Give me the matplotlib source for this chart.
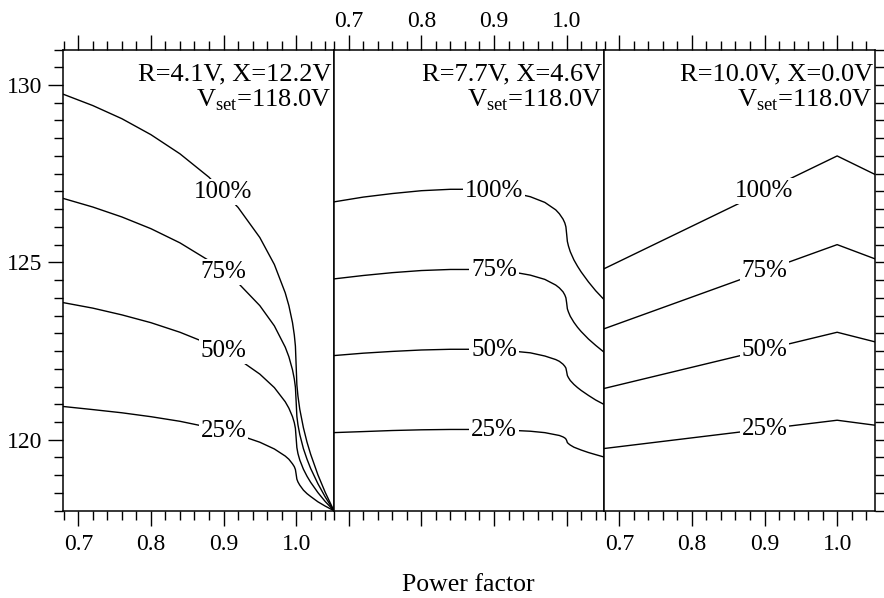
import numpy as np
import matplotlib
matplotlib.use('Agg')
import matplotlib.pyplot as plt
from matplotlib.ticker import FixedLocator, MultipleLocator

plt.rcParams['font.family'] = ['Liberation Serif', 'DejaVu Serif']
plt.rcParams['mathtext.fontset'] = 'custom'
plt.rcParams['mathtext.rm'] = 'Liberation Serif'

# --- data ---
loads = ['100%', '75%', '50%', '25%']
titles = ['R=4.1V, X=12.2V', 'R=7.7V, X=4.6V', 'R=10.0V, X=0.0V']
vset_text = r'V$_{\rm set}$=118.0V'

# power factor positions where the curves were read (>1 means leading)
pf = [0.678, 0.72, 0.76, 0.80, 0.84, 0.88, 0.92, 0.95, 0.97, 0.985, 0.99, 0.995,
      0.9975, 0.999, 1.0, 1.001, 1.0025, 1.005, 1.01, 1.015, 1.02, 1.03, 1.04, 1.052]

# panel 1: R=4.1V, X=12.2V
v1_100 = [129.75, 129.42, 129.05, 128.60, 128.06, 127.40, 126.55, 125.70, 124.94, 124.14, 123.78, 123.30,
          122.95, 122.64, 122.10, 121.55, 121.23, 120.86, 120.34, 119.93, 119.59, 119.01, 118.52, 118.00]
v1_75 = [126.81, 126.56, 126.28, 125.95, 125.55, 125.05, 124.42, 123.78, 123.21, 122.61, 122.34, 121.97,
         121.71, 121.48, 121.08, 120.66, 120.42, 120.15, 119.75, 119.45, 119.19, 118.76, 118.39, 118.00]
v1_50 = [123.87, 123.71, 123.52, 123.30, 123.03, 122.70, 122.28, 121.85, 121.47, 121.07, 120.89, 120.65,
         120.48, 120.32, 120.05, 119.78, 119.61, 119.43, 119.17, 118.97, 118.80, 118.51, 118.26, 118.00]
v1_25 = [120.94, 120.85, 120.76, 120.65, 120.52, 120.35, 120.14, 119.93, 119.74, 119.54, 119.45, 119.32,
         119.24, 119.16, 119.03, 118.89, 118.81, 118.72, 118.58, 118.48, 118.40, 118.25, 118.13, 118.00]

# panel 2: R=7.7V, X=4.6V
v2_100 = [126.70, 126.84, 126.94, 127.02, 127.06, 127.06, 126.99, 126.85, 126.69, 126.48, 126.37, 126.22,
          126.11, 126.00, 125.80, 125.59, 125.46, 125.30, 125.07, 124.89, 124.73, 124.45, 124.20, 123.94]
v2_75 = [124.53, 124.63, 124.71, 124.77, 124.80, 124.80, 124.75, 124.64, 124.52, 124.36, 124.28, 124.17,
         124.08, 124.00, 123.86, 123.69, 123.60, 123.48, 123.31, 123.17, 123.05, 122.84, 122.66, 122.46]
v2_50 = [122.37, 122.44, 122.49, 122.53, 122.55, 122.55, 122.51, 122.45, 122.36, 122.26, 122.21, 122.13,
         122.07, 122.02, 121.92, 121.81, 121.75, 121.67, 121.56, 121.47, 121.39, 121.25, 121.12, 120.99]
v2_25 = [120.20, 120.23, 120.26, 120.28, 120.29, 120.29, 120.27, 120.24, 120.20, 120.14, 120.12, 120.08,
         120.05, 120.02, 119.98, 119.92, 119.89, 119.85, 119.79, 119.75, 119.71, 119.64, 119.58, 119.51]

# panel 3: R=10.0V, X=0.0V (straight segments)
pf3 = [0.678, 1.0, 1.052]
v3_100 = [124.81, 128.0, 127.48]
v3_75 = [123.12, 125.5, 125.1]
v3_50 = [121.44, 123.03, 122.76]
v3_25 = [119.75, 120.55, 120.41]

pf_ticks = [0.7, 0.8, 0.9, 1.0]
pf_tick_labels = ['0.7', '0.8', '0.9', '1.0']
v_ticks = [120, 125, 130]
label_pf = 0.9

panels = [
    [(pf, v1_100), (pf, v1_75), (pf, v1_50), (pf, v1_25)],
    [(pf, v2_100), (pf, v2_75), (pf, v2_50), (pf, v2_25)],
    [(pf3, v3_100), (pf3, v3_75), (pf3, v3_50), (pf3, v3_25)],
]

fig, axes = plt.subplots(1, 3, figsize=(8.84, 5.98), dpi=100, sharey=True)
fig.subplots_adjust(left=0.0713, right=0.9893, bottom=0.146, top=0.9172, wspace=0)

for i, ax in enumerate(axes):
    for (x, y), name in zip(panels[i], loads):
        ax.plot(x, y, color='black', lw=1.0)
        ly = np.interp(label_pf, x, y)
        ax.text(label_pf, ly, name, fontsize=18, ha='center', va='center',
                bbox=dict(facecolor='white', edgecolor='none', pad=1.5), zorder=5)
    ax.text(0.993, 0.932, titles[i], transform=ax.transAxes, ha='right', va='baseline', fontsize=19)
    ax.text(0.993, 0.8775, vset_text, transform=ax.transAxes, ha='right', va='baseline', fontsize=19)

    ax.set_xlim(0.679, 1.0515)
    ax.set_ylim(118, 131)
    ax.xaxis.set_major_locator(FixedLocator(pf_ticks))
    ax.xaxis.set_minor_locator(MultipleLocator(0.02))
    ax.set_xticklabels(pf_tick_labels)
    ax.yaxis.set_major_locator(FixedLocator(v_ticks))
    ax.yaxis.set_minor_locator(MultipleLocator(0.5))
    for s in ax.spines.values():
        s.set_linewidth(1.1)
    ax.tick_params(which='both', direction='out', width=1.0, labelsize=17)
    ax.tick_params(axis='x', pad=6)
    ax.tick_params(axis='y', pad=4)
    ax.tick_params(which='major', length=10.8)
    ax.tick_params(which='minor', length=6.5)
    ax.tick_params(axis='x', which='both', top=True, bottom=True)

ax1, ax2, ax3 = axes
ax1.tick_params(axis='x', labelbottom=True, labeltop=False)
ax1.tick_params(axis='y', which='both', left=True, right=False, labelleft=True)
ax2.tick_params(axis='x', labelbottom=False, labeltop=True, pad=1.5)
ax2.tick_params(axis='y', which='both', left=False, right=False, labelleft=False)
ax3.tick_params(axis='x', labelbottom=True, labeltop=False)
ax3.tick_params(axis='y', which='both', left=False, right=True, labelleft=False, labelright=False, length=6.5)

fig.text(0.530, 0.0117, 'Power factor', ha='center', va='baseline', fontsize=18.5)

fig.savefig('out.png', dpi=100)
